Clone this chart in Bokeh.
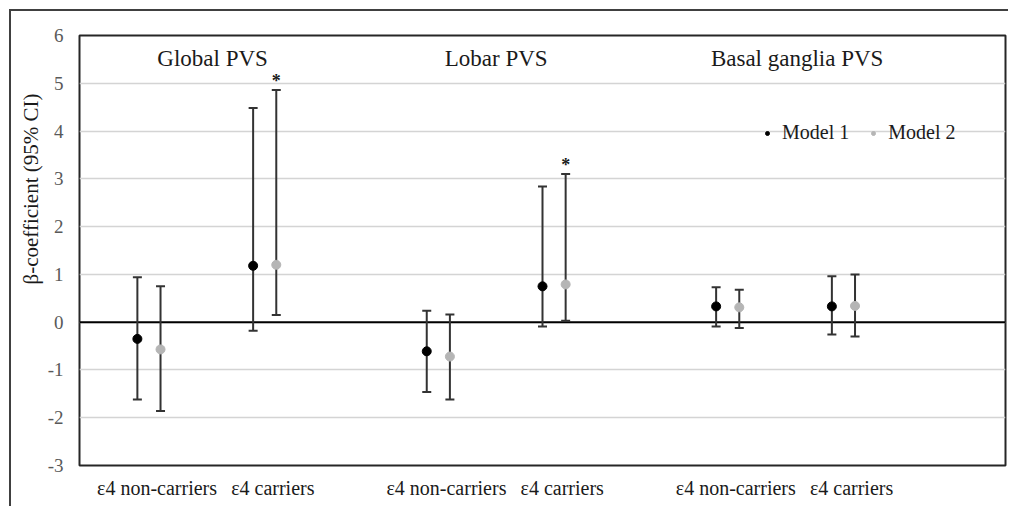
import numpy as np
from bokeh.plotting import figure
from bokeh.models import (ColumnDataSource, Whisker, TeeHead, Span, Label, Legend,
                          LegendItem, FixedTicker, Range1d, Title)
from bokeh.embed import file_html
from bokeh.resources import INLINE
from bokeh.core.properties import value

# ---------------- data ----------------
sections = ["Global PVS", "Lobar PVS", "Basal ganglia PVS"]
groups = ["ε4 non-carriers", "ε4 carriers"]
models = ["Model 1", "Model 2"]

# order: Global nc, Global c, Lobar nc, Lobar c, Basal nc, Basal c
m1_beta = [-0.35, 1.18, -0.61, 0.75, 0.33, 0.33]
m1_lower = [-1.62, -0.18, -1.46, -0.09, -0.09, -0.26]
m1_upper = [0.94, 4.48, 0.24, 2.84, 0.73, 0.96]
m2_beta = [-0.57, 1.20, -0.72, 0.79, 0.31, 0.34]
m2_lower = [-1.86, 0.15, -1.62, 0.03, -0.12, -0.30]
m2_upper = [0.75, 4.86, 0.16, 3.10, 0.68, 1.00]
m2_significant = [False, True, False, True, False, False]
y_ticks = [-3, -2, -1, 0, 1, 2, 3, 4, 5, 6]

# ---------------- layout ----------------
FONT = "'Liberation Serif', serif"
SECTION_GAP = 2.5
DODGE = 0.1
n_groups = len(sections) * len(groups)
centers = [(g // 2) * SECTION_GAP + (g % 2) for g in range(n_groups)]
x1 = [c - DODGE for c in centers]
x2 = [c + DODGE for c in centers]

src1 = ColumnDataSource(dict(x=x1, y=m1_beta, lo=m1_lower, hi=m1_upper))
src2 = ColumnDataSource(dict(x=x2, y=m2_beta, lo=m2_lower, hi=m2_upper))

p = figure(width=999, height=497, output_backend="svg", toolbar_location=None,
           x_range=Range1d(-0.6, 7.4), y_range=Range1d(-3, 6),
           min_border_left=68, min_border_right=5, min_border_top=24, min_border_bottom=43)
p.styles = {"border-top": "2px solid #404040", "border-left": "2px solid #404040",
            "margin-left": "9px", "margin-top": "9px"}

p.outline_line_color = "#262626"
p.outline_line_width = 2
p.background_fill_color = "white"
p.border_fill_color = "white"

# grid
p.xgrid.visible = False
p.ygrid.ticker = FixedTicker(ticks=y_ticks)
p.ygrid.grid_line_color = "#d4d4d4"
p.ygrid.grid_line_width = 1.5

# y axis
p.yaxis.ticker = FixedTicker(ticks=y_ticks)
p.yaxis.major_label_overrides = {t: str(t) for t in y_ticks}
p.yaxis.axis_line_color = None
p.yaxis.major_tick_line_color = None
p.yaxis.minor_tick_line_color = None
p.yaxis.major_label_standoff = 10
p.yaxis.major_label_text_font = FONT
p.yaxis.major_label_text_font_size = "19px"
p.yaxis.major_label_text_color = "#595959"

# y axis title (shifted upward like the original)
p.add_layout(Title(text="β-coefficient (95% CI)", align="right", offset=58, standoff=4,
                   text_font=FONT, text_font_size="21px", text_font_style="normal",
                   text_color="#1a1a1a"), "left")

# x axis with group labels
label_shift = 0.07
xticks = [round(c + label_shift, 2) for c in centers]
p.xaxis.ticker = FixedTicker(ticks=xticks)
p.xaxis.major_label_overrides = {t: groups[i % 2] for i, t in enumerate(xticks)}
p.xaxis.axis_line_color = None
p.xaxis.major_tick_line_color = None
p.xaxis.minor_tick_line_color = None
p.xaxis.major_label_standoff = 5
p.xaxis.major_label_text_font = FONT
p.xaxis.major_label_text_font_size = "20px"
p.xaxis.major_label_text_color = "#1a1a1a"

# zero line
p.add_layout(Span(location=0, dimension="width", line_color="black", line_width=2, level="underlay"))

# error bars
for src in (src1, src2):
    p.add_layout(Whisker(source=src, base="x", lower="lo", upper="hi",
                         line_color="#333333", line_width=2,
                         lower_head=TeeHead(size=9, line_color="#333333", line_width=2),
                         upper_head=TeeHead(size=9, line_color="#333333", line_width=2),
                         level="underlay"))

p.scatter("x", "y", source=src1, size=9, color="black")
p.scatter("x", "y", source=src2, size=9, color="#b5b5b5")

# significance asterisks
sig_x = [x for x, s in zip(x2, m2_significant) if s]
sig_y = [u for u, s in zip(m2_upper, m2_significant) if s]
p.text(x=sig_x, y=sig_y, text=["*"] * len(sig_x), text_align="center", text_baseline="alphabetic",
       y_offset=-9, text_font=value(FONT), text_font_size="18px", text_font_style="bold",
       text_color="#1a1a1a")

# section titles
title_shift = [0.05, 0.0, 0.1]
for s, name in enumerate(sections):
    mid = s * SECTION_GAP + 0.5 + title_shift[s]
    p.add_layout(Label(x=mid, y=5.52, text=name, text_align="center", text_baseline="middle",
                       text_font=FONT, text_font_size="23px", text_color="#1a1a1a"))

# legend (small dots, as in the original key)
r1 = p.scatter([np.nan], [np.nan], size=5, color="black")
r2 = p.scatter([np.nan], [np.nan], size=5, color="#b5b5b5")
legend = Legend(items=[LegendItem(label=models[0], renderers=[r1]),
                       LegendItem(label=models[1], renderers=[r2])],
                orientation="horizontal", location=(683, 321),
                background_fill_alpha=0, border_line_alpha=0, padding=0, margin=0,
                spacing=19, glyph_width=10, glyph_height=10, label_standoff=10,
                label_text_font=FONT, label_text_font_size="20px", label_text_color="#1a1a1a")
p.add_layout(legend)

open("out.html", "w").write(file_html(p, INLINE))
